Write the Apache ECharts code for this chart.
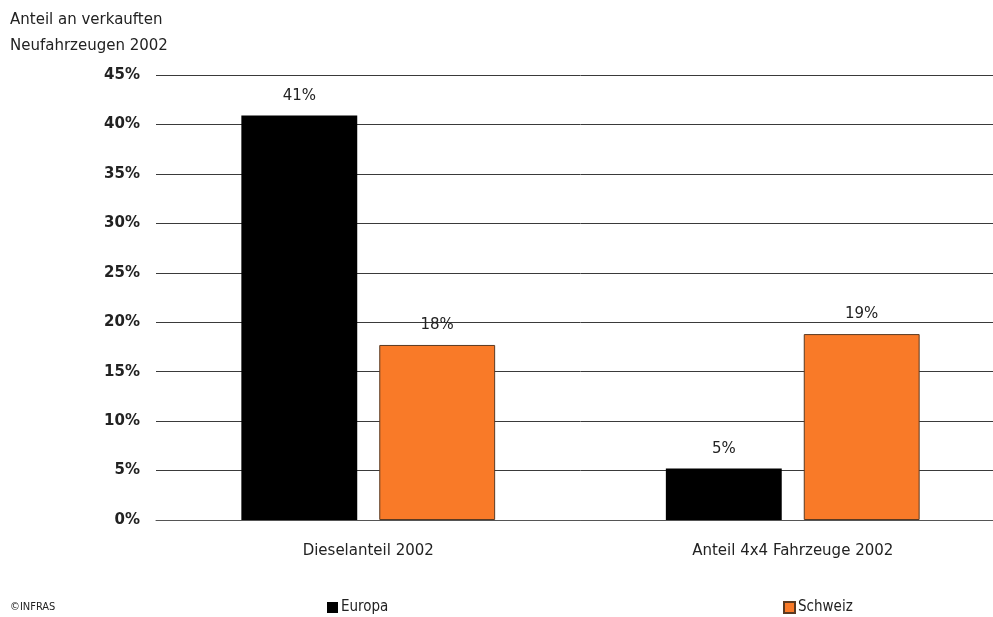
<!DOCTYPE html>
<html>
<head>
<meta charset="utf-8">
<script src="https://cdn.jsdelivr.net/npm/echarts@6/dist/echarts.min.js"></script>
<style>
  html, body { margin: 0; padding: 0; background: #fff; overflow: hidden; }
  #chart { width: 1005px; height: 617px; }
</style>
</head>
<body>
<div id="chart"></div>
<script>
// Vehicle share data (percent of new vehicles sold in 2002)
const categories = ['Dieselanteil 2002', 'Anteil 4x4 Fahrzeuge 2002'];
const seriesNames = ['Europa', 'Schweiz'];
const europa = [40.9, 5.2];
const schweiz = [17.7, 18.8];
const yTicks = [0, 5, 10, 15, 20, 25, 30, 35, 40, 45];

const FONT = '"DejaVu Sans", "Noto Sans", sans-serif';
const FONT_COND = '"DejaVu Sans Condensed", "DejaVu Sans", sans-serif';
const colors = { Europa: '#000000', Schweiz: '#F97A28' };

const chart = echarts.init(document.getElementById('chart'), null, { renderer: 'canvas' });

const valueLabel = {
  show: true,
  position: 'top',
  distance: 12,
  fontFamily: FONT,
  fontSize: 15,
  color: '#222',
  formatter: p => Math.round(p.value) + '%'
};

const legendBase = {
  top: 600, padding: 0, itemWidth: 11, itemHeight: 11, itemGap: 0, icon: 'rect',
  textStyle: { fontFamily: FONT_COND, fontSize: 15, color: '#222', padding: [0, 0, 0, -2] }
};

chart.setOption({
  animation: false,
  backgroundColor: '#ffffff',
  textStyle: { fontFamily: FONT },
  title: {
    text: 'Anteil an verkauften\nNeufahrzeugen 2002',
    left: 10,
    top: 7,
    padding: 0,
    textStyle: { fontFamily: FONT, fontSize: 15, fontWeight: 'normal', color: '#222', lineHeight: 26 }
  },
  graphic: [{
    type: 'text',
    left: 10,
    top: 602,
    style: { text: '©INFRAS', font: '11px "DejaVu Sans Condensed", sans-serif', fill: '#222' }
  }],
  legend: [
    Object.assign({ data: ['Europa'], left: 327 }, legendBase),
    Object.assign({ data: ['Schweiz'], left: 783 }, legendBase)
  ],
  grid: { left: 156, top: 75, right: 0, bottom: 97, containLabel: false },
  xAxis: {
    type: 'category',
    data: categories,
    axisTick: { show: false },
    axisLine: { lineStyle: { color: '#555', width: 1 } },
    axisLabel: { fontFamily: FONT, fontSize: 15, color: '#222', margin: 24 }
  },
  yAxis: {
    type: 'value',
    min: yTicks[0],
    max: yTicks[yTicks.length - 1],
    interval: 5,
    axisLine: { show: false },
    axisTick: { show: false },
    axisLabel: { fontFamily: FONT, fontSize: 15, fontWeight: 'bold', color: '#222', margin: 16, formatter: '{value}%' },
    splitLine: { lineStyle: { color: '#3a3a3a', width: 1 } }
  },
  series: [
    {
      name: seriesNames[0],
      type: 'bar',
      data: europa,
      barWidth: '27.3%',
      barGap: '19%',
      itemStyle: { color: colors.Europa },
      label: valueLabel
    },
    {
      name: seriesNames[1],
      type: 'bar',
      data: schweiz,
      barWidth: '27.3%',
      itemStyle: { color: colors.Schweiz, borderColor: '#5a3a22', borderWidth: 1 },
      label: valueLabel
    }
  ]
});
</script>
</body>
</html>
